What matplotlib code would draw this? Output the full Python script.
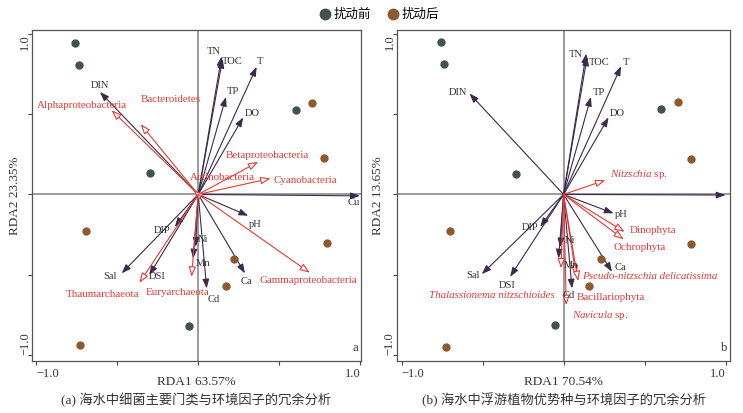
import matplotlib
matplotlib.use('Agg')
import matplotlib.pyplot as plt
from matplotlib.lines import Line2D

plt.rcParams['font.family'] = ['Liberation Serif', 'Noto Sans CJK SC']
plt.rcParams['mathtext.fontset'] = 'custom'
plt.rcParams['mathtext.rm'] = 'Liberation Serif'
plt.rcParams['mathtext.it'] = 'Liberation Serif:italic'
plt.rcParams['axes.unicode_minus'] = True

# ---- sample sites ----
a_before_x = [-0.758, -0.737, 0.604, -0.296, -0.057]
a_before_y = [0.947, 0.808, 0.527, 0.131, -0.821]
a_after_x = [0.699, 0.777, -0.692, 0.793, 0.222, 0.169, -0.731]
a_after_y = [0.567, 0.224, -0.231, -0.303, -0.403, -0.573, -0.937]

b_before_x = [-0.758, -0.738, 0.600, -0.294, -0.051]
b_before_y = [0.949, 0.812, 0.531, 0.128, -0.816]
b_after_x = [0.705, 0.784, -0.703, 0.784, 0.233, 0.157, -0.727]
b_after_y = [0.577, 0.220, -0.231, -0.310, -0.403, -0.573, -0.951]

# ---- environmental factors ----
a_env = ['TN', 'TOC', 'T', 'TP', 'DO', 'DIN', 'Cu', 'pH', 'DIP', 'Ni', 'Mn', 'Sal', 'DSI', 'Ca', 'Cd']
a_env_x = [0.144, 0.150, 0.360, 0.171, 0.277, -0.606, 0.996, 0.308, -0.144, -0.016, -0.031, -0.472, -0.302, 0.288, 0.052]
a_env_y = [0.860, 0.845, 0.795, 0.608, 0.480, 0.639, -0.009, -0.133, -0.202, -0.326, -0.399, -0.492, -0.503, -0.492, -0.586]
a_env_lx = [0.095, 0.211, 0.383, 0.216, 0.330, -0.604, 0.959, 0.349, -0.224, 0.031, 0.029, -0.546, -0.254, 0.299, 0.097]
a_env_ly = [0.890, 0.827, 0.826, 0.640, 0.507, 0.681, -0.051, -0.185, -0.222, -0.283, -0.428, -0.511, -0.511, -0.540, -0.652]

b_env = ['TN', 'TOC', 'T', 'TP', 'DO', 'DIN', 'Cu', 'pH', 'DIP', 'Ni', 'Mn', 'Sal', 'DSI', 'Ca', 'Cd']
b_env_x = [0.140, 0.146, 0.355, 0.169, 0.278, -0.581, 1.000, 0.309, -0.144, -0.020, -0.031, -0.505, -0.330, 0.299, 0.052]
b_env_y = [0.878, 0.860, 0.799, 0.608, 0.480, 0.629, -0.004, -0.118, -0.202, -0.330, -0.399, -0.497, -0.513, -0.482, -0.586]
b_env_lx = [0.074, 0.220, 0.383, 0.219, 0.333, -0.652, None, 0.359, -0.208, 0.038, 0.045, -0.562, -0.348, 0.350, 0.031]
b_env_ly = [0.873, 0.820, 0.823, 0.634, 0.505, 0.636, None, -0.126, -0.207, -0.285, -0.444, -0.505, -0.568, -0.455, -0.630]

# ---- species ----
a_sp = ['Alphaproteobacteria', 'Bacteroidetes', 'Betaproteobacteria', 'Cyanobacteria', 'Actinobacteria',
        'Gammaproteobacteria', 'Thaumarchaeota', 'Euryarchaeota']
a_sp_x = [-0.534, -0.355, 0.370, 0.446, -0.030, 0.688, -0.363, -0.041]
a_sp_y = [0.525, 0.438, 0.203, 0.100, 0.027, -0.488, -0.551, -0.513]
a_sp_lx = [-0.715, -0.172, 0.424, 0.659, 0.149, 0.676, -0.590, -0.130]
a_sp_ly = [0.555, 0.593, 0.240, 0.087, 0.108, -0.539, -0.622, -0.612]

b_sp = [r'$\mathit{Nitzschia}$ sp.', 'Dinophyta', 'Ochrophyta', 'Pseudo-nitzschia delicatissima',
        'Bacillariophyta', r'$\mathit{Navicula}$ sp.', 'Thalassionema nitzschioides']
b_sp_italic = [False, False, False, True, False, False, True]
b_sp_x = [0.258, 0.377, 0.371, 0.077, 0.090, 0.017, -0.016]
b_sp_y = [0.089, -0.233, -0.280, -0.505, -0.540, -0.690, -0.461]
b_sp_lx = [0.466, 0.550, 0.472, 0.531, 0.293, 0.227, -0.443]
b_sp_ly = [0.125, -0.227, -0.331, -0.512, -0.643, -0.757, -0.632]

DARK = '#41524f'
BROWN = '#8b5a2e'
ENV = '#3b2a4c'
RED = '#e23b36'


def draw_panel(ax, bx, by, ax_, ay_, env, ex, ey, elx, ely, sp, sx, sy, slx, sly, sp_italic,
               xlim, xlabel, ylabel, ylab_x, tag, caption):
    ax.set_xlim(*xlim)
    ax.set_ylim(-1.038, 1.024)
    ax.axhline(0, color='#808080', lw=1.1, zorder=1)
    ax.axvline(0, color='#808080', lw=1.1, zorder=1)

    ax.scatter(bx, by, s=36, color=DARK, zorder=4, linewidths=0)
    ax.scatter(ax_, ay_, s=36, color=BROWN, zorder=4, linewidths=0)

    for name, x, y, lx, ly in zip(env, ex, ey, elx, ely):
        ax.annotate('', xy=(x, y), xytext=(0, 0),
                    arrowprops=dict(arrowstyle='-|>,head_length=0.55,head_width=0.2',
                                    color=ENV, lw=0.8, shrinkA=0, shrinkB=0, mutation_scale=10),
                    zorder=3)
        if lx is not None:
            ax.text(lx, ly, name, fontsize=7.6, color='#333333', ha='center', va='center', zorder=5)

    for i, (name, x, y, lx, ly) in enumerate(zip(sp, sx, sy, slx, sly)):
        ax.annotate('', xy=(x, y), xytext=(0, 0),
                    arrowprops=dict(arrowstyle='-|>,head_length=0.6,head_width=0.22',
                                    fc='white', ec=RED, lw=0.8, shrinkA=0, shrinkB=0, mutation_scale=10),
                    zorder=3)
        style = 'italic' if sp_italic[i] else 'normal'
        ax.text(lx, ly, name, fontsize=7.9, color=RED, ha='center', va='center',
                fontstyle=style, zorder=5)

    ax.set_xticks([-1, -0.5, 0, 0.5, 1])
    ax.set_yticks([-1, -0.5, 0, 0.5, 1])
    ax.set_xticklabels(['\u22121.0', '', '', '', '1.0'], fontsize=9)
    ax.set_yticklabels(['\u22121.0', '', '', '', '1.0'], fontsize=9, rotation=90)
    xl = ax.get_xticklabels()
    xl[0].set_ha('left')
    xl[-1].set_ha('right')
    yl = ax.get_yticklabels()
    for t in yl:
        t.set_ha('center')
    yl[0].set_va('bottom')
    yl[-1].set_va('top')
    ax.tick_params(direction='out', length=3, width=0.8, colors='#444444', labelcolor='#333333', pad=2)
    for s in ax.spines.values():
        s.set_color('#555555')
        s.set_linewidth(0.9)

    ax.set_xlabel(xlabel, fontsize=9.5, color='#333333', labelpad=-3)
    ax.set_ylabel(ylabel, fontsize=9.5, color='#333333')
    ax.yaxis.set_label_coords(ylab_x, 0.5)
    ax.text(0.99, 0.02, tag, transform=ax.transAxes, fontsize=9, ha='right', va='bottom', color='#333333')
    ax.text(0.5, -0.118, caption, transform=ax.transAxes, fontsize=9.5, ha='center', va='center', color='#333333')


fig = plt.figure(figsize=(7.43, 4.13), dpi=100)
ax1 = fig.add_axes([0.043, 0.126, 0.443, 0.801])
ax2 = fig.add_axes([0.534, 0.126, 0.449, 0.801])

draw_panel(ax1, a_before_x, a_before_y, a_after_x, a_after_y,
           a_env, a_env_x, a_env_y, a_env_lx, a_env_ly,
           a_sp, a_sp_x, a_sp_y, a_sp_lx, a_sp_ly, [False] * len(a_sp),
           (-1.025, 1.004), 'RDA1 63.57%', 'RDA2 23.35%', -0.032, 'a',
           '(a) 海水中细菌主要门类与环境因子的冗余分析')
draw_panel(ax2, b_before_x, b_before_y, b_after_x, b_after_y,
           b_env, b_env_x, b_env_y, b_env_lx, b_env_ly,
           b_sp, b_sp_x, b_sp_y, b_sp_lx, b_sp_ly, b_sp_italic,
           (-1.030, 1.030), 'RDA1 70.54%', 'RDA2 13.65%', -0.038, 'b',
           '(b) 海水中浮游植物优势种与环境因子的冗余分析')

handles = [Line2D([], [], marker='o', ls='', color=DARK, markersize=7.5),
           Line2D([], [], marker='o', ls='', color=BROWN, markersize=7.5)]
fig.legend(handles, ['扰动前', '扰动后'], loc='center', bbox_to_anchor=(0.51, 0.964), ncol=2,
           frameon=False, fontsize=9, handletextpad=0.2, columnspacing=1.2, handlelength=1.0)

fig.savefig('out.png', dpi=100)
